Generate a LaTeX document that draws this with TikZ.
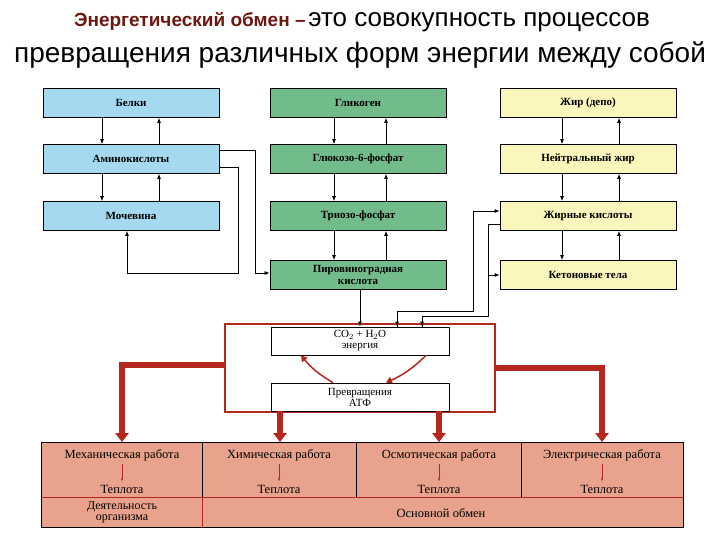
\documentclass[tikz,border=0pt]{standalone}
\usepackage{fontspec}
\setmainfont{Liberation Serif}
\newfontfamily\titlefont{Liberation Sans}
\usetikzlibrary{arrows.meta}
\definecolor{bluebox}{HTML}{A4D9F0}
\definecolor{greenbox}{HTML}{72BC8C}
\definecolor{yellowbox}{HTML}{FAF6BC}
\definecolor{workbox}{HTML}{E9A38C}
\definecolor{darkred}{HTML}{B5261E}
\begin{document}
\begin{tikzpicture}[x=1pt,y=-1pt,
  box/.style = {draw, thick, minimum width=176pt, minimum height=29pt, font=\fontsize{11}{12}\selectfont\bfseries, align=center, inner sep=1pt},
  blue/.style = {box, fill=bluebox},
  green/.style = {box, fill=greenbox},
  yellow/.style = {box, fill=yellowbox},
  plain/.style = {box, fill=white, font=\fontsize{11}{11}\selectfont, minimum width=178pt},
  link/.style = {thick, -{Latex[length=5pt,width=4pt]}},
  fat/.style = {line width=6pt, darkred, -{Triangle[width=13pt,length=9pt]}},
  work/.style = {font=\fontsize{12.5}{13}\selectfont}]
\useasboundingbox (0,0) rectangle (720,540);
\node[font=\titlefont] at (362,22) {\textcolor{darkred!60!black}{\bfseries\fontsize{19}{22}\selectfont Энергетический обмен –} \fontsize{26}{30}\selectfont это совокупность процессов};
\node[font=\titlefont\fontsize{28}{32}\selectfont] at (360,55) {превращения различных форм энергии между собой};
% columns
\node[blue] (Bel) at (131,103) {Белки};
\node[blue] (Ami) at (131,159) {Аминокислоты};
\node[blue] (Moch) at (131,216) {Мочевина};
\node[green] (Gli) at (358,103) {Гликоген};
\node[green] (Glu) at (358,159) {Глюкозо-6-фосфат};
\node[green] (Tri) at (358,216) {Триозо-фосфат};
\node[green] (Pir) at (358,275) {Пировиноградная\\кислота};
\node[yellow] (Zhir) at (588,103) {Жир (депо)};
\node[yellow] (Neit) at (588,159) {Нейтральный жир};
\node[yellow] (Kisl) at (588,216) {Жирные кислоты};
\node[yellow] (Ket) at (588,275) {Кетоновые тела};
% energy box
\node[draw=darkred, line width=2pt, minimum width=270pt, minimum height=88pt] (En) at (360,368) {};
\node[plain, minimum height=28pt] (CO) at (360,341) {CO$_2$ + H$_2$O\\энергия};
\node[plain, minimum height=28pt] (ATP) at (360,397) {Превращения\\АТФ};
% up and down links
\foreach \a/\b/\xd/\xu in {Bel/Ami/102/159, Ami/Moch/102/159, Gli/Glu/334/386, Glu/Tri/334/386, Tri/Pir/334/386, Zhir/Neit/562/619, Neit/Kisl/562/619, Kisl/Ket/562/619}{
  \draw[link] (\a.south -| \xd,0) -- (\b.north -| \xd,0);
  \draw[link] (\b.north -| \xu,0) -- (\a.south -| \xu,0);
}
\draw[link] (Ami.east |- 0,150) -- (255,150) -- (255,273) -- (Pir.west |- 0,273);
\draw[link] (Ami.east |- 0,167) -- (238,167) -- (238,273) -- (127,273) -- (Moch.south -| 127,0);
\draw[link] (Pir.south -| 360,0) -- (CO.north -| 360,0);
\draw[link] (CO.north -| 397,0) -- (397,311) -- (473,311) -- (473,211) -- (Kisl.west |- 0,211);
\draw[thick] (CO.north -| 422,0) -- (422,316) -- (488,316) -- (488,224) -- (Kisl.west |- 0,224);
\draw[link] (397,311) -- (CO.north -| 397,0);
\draw[link] (422,316) -- (CO.north -| 422,0);
\draw[link] (488,275) -- (Ket.west |- 0,275);
\draw[darkred, line width=1.5pt, -{Triangle[width=7pt,length=6pt]}] (ATP.north -| 333,0) to[bend left=10] (CO.south -| 301,0);
\draw[darkred, line width=1.5pt, -{Triangle[width=7pt,length=6pt]}] (CO.south -| 426,0) to[bend left=10] (ATP.north -| 386,0);
% work panel
\node[draw, thick, fill=workbox, minimum width=642pt, minimum height=85pt] (Pan) at (362,485) {};
\draw[darkred, thick] (Pan.west |- 0,497) -- (Pan.east |- 0,497);
\foreach \x in {202,356,521} \draw[thick] (\x,442) -- (\x,497);
\draw[darkred, thick] (202,497) -- (202,527);
\foreach \x/\t/\n in {122/Механическая работа/m, 279/Химическая работа/h, 439/Осмотическая работа/o, 602/Электрическая работа/e}{
  \node[work] (w\n) at (\x,455) {\t};
  \node[work] (t\n) at (\x,489) {Теплота};
  \draw[darkred, -{Latex[length=3pt]}] (w\n) -- (t\n);
}
\node[work, align=center, inner sep=0pt, font=\fontsize{12}{11}\selectfont] (Dey) at (122,512) {Деятельность\\организма};
\node[work] (Osn) at (441,513) {Основной обмен};
% thick arrows
\draw[fat] (En.west |- 0,365) -- (122,365) -- (Pan.north -| 122,0);
\draw[fat] (En.east |- 0,368) -- (602,368) -- (Pan.north -| 602,0);
\draw[fat] (ATP.south -| 280,0) -- (Pan.north -| 280,0);
\draw[fat] (ATP.south -| 439,0) -- (Pan.north -| 439,0);
\end{tikzpicture}
\end{document}
